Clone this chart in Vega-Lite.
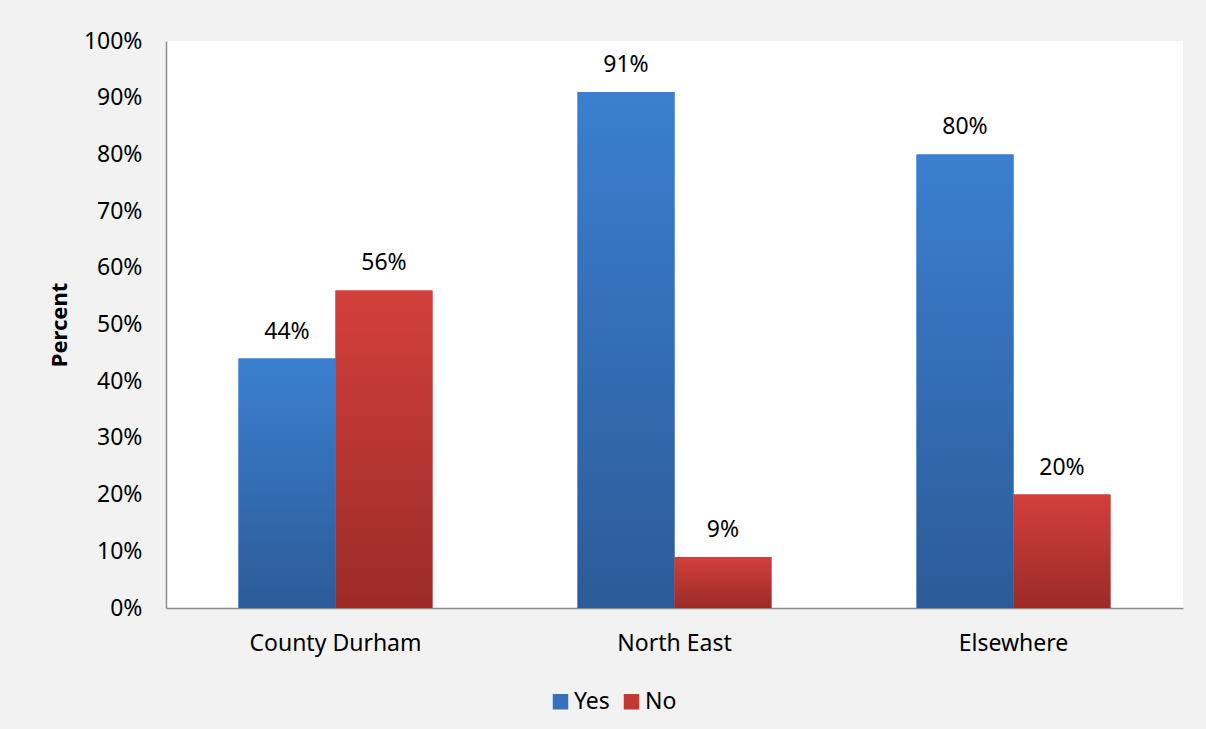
{
  "$schema": "https://vega.github.io/schema/vega-lite/v6.json",
  "autosize": {"type": "none"},
  "padding": {"left": 166, "top": 41, "right": 23, "bottom": 121},
  "width": 1017,
  "height": 567,
  "background": "#f2f2f2",
  "config": {
    "font": "Noto Sans",
    "view": {"fill": "white", "stroke": null},
    "axis": {"labelFont": "Noto Sans", "labelColor": "#000000", "titleFont": "Noto Sans", "titleColor": "#000000"}
  },
  "data": {
    "values": [
      {"region": "County Durham", "answer": "Yes", "value": 0.44},
      {"region": "County Durham", "answer": "No", "value": 0.56},
      {"region": "North East", "answer": "Yes", "value": 0.91},
      {"region": "North East", "answer": "No", "value": 0.09},
      {"region": "Elsewhere", "answer": "Yes", "value": 0.80},
      {"region": "Elsewhere", "answer": "No", "value": 0.20}
    ]
  },
  "encoding": {
    "x": {
      "field": "region", "type": "nominal",
      "sort": ["County Durham", "North East", "Elsewhere"],
      "scale": {"paddingInner": 0.428, "paddingOuter": 0.214},
      "axis": {"title": null, "labelAngle": 0, "labelFontSize": 23, "labelPadding": 24, "ticks": false, "domainColor": "#8c8c8c", "domainWidth": 1.5, "grid": false}
    },
    "xOffset": {"field": "answer", "type": "nominal", "sort": ["Yes", "No"], "scale": {"domain": ["Yes", "No"], "paddingInner": 0, "paddingOuter": 0}},
    "y": {
      "field": "value", "type": "quantitative",
      "scale": {"domain": [0, 1], "nice": false},
      "axis": {"title": "Percent", "titleFontSize": 22, "titleFontWeight": "bold", "titlePadding": 12, "format": ".0%", "values": [0, 0.1, 0.2, 0.3, 0.4, 0.5, 0.6, 0.7, 0.8, 0.9, 1.0], "labelFontSize": 23, "labelPadding": 24, "ticks": false, "grid": false, "domainColor": "#8c8c8c", "domainWidth": 1.5}
    }
  },
  "layer": [
    {
      "mark": {"type": "bar"},
      "encoding": {
        "color": {
          "field": "answer", "type": "nominal", "sort": ["Yes", "No"],
          "scale": {"domain": ["Yes", "No"], "range": ["#3571bd", "#c23934"]},
          "legend": {
            "title": null, "orient": "none", "direction": "horizontal",
            "legendX": 383, "legendY": 649,
            "symbolType": "square", "symbolSize": 240, "symbolStrokeWidth": 0, "symbolOpacity": 1,
            "labelFontSize": 23, "labelColor": "#000000", "labelFont": "Noto Sans",
            "columnPadding": 10, "labelOffset": 2
          }
        }
      }
    },
    {
      "transform": [{"filter": "datum.answer === 'Yes'"}],
      "mark": {"type": "bar", "color": {"gradient": "linear", "x1": 0, "y1": 0, "x2": 0, "y2": 1, "stops": [{"offset": 0, "color": "#3b7fd0"}, {"offset": 1, "color": "#2c5b98"}]}}
    },
    {
      "transform": [{"filter": "datum.answer === 'No'"}],
      "mark": {"type": "bar", "color": {"gradient": "linear", "x1": 0, "y1": 0, "x2": 0, "y2": 1, "stops": [{"offset": 0, "color": "#d33f3b"}, {"offset": 1, "color": "#9b2b28"}]}}
    },
    {
      "mark": {"type": "text", "baseline": "alphabetic", "dy": -20, "fontSize": 23, "color": "#000000"},
      "encoding": {
        "text": {"field": "value", "type": "quantitative", "format": ".0%"}
      }
    }
  ]
}
